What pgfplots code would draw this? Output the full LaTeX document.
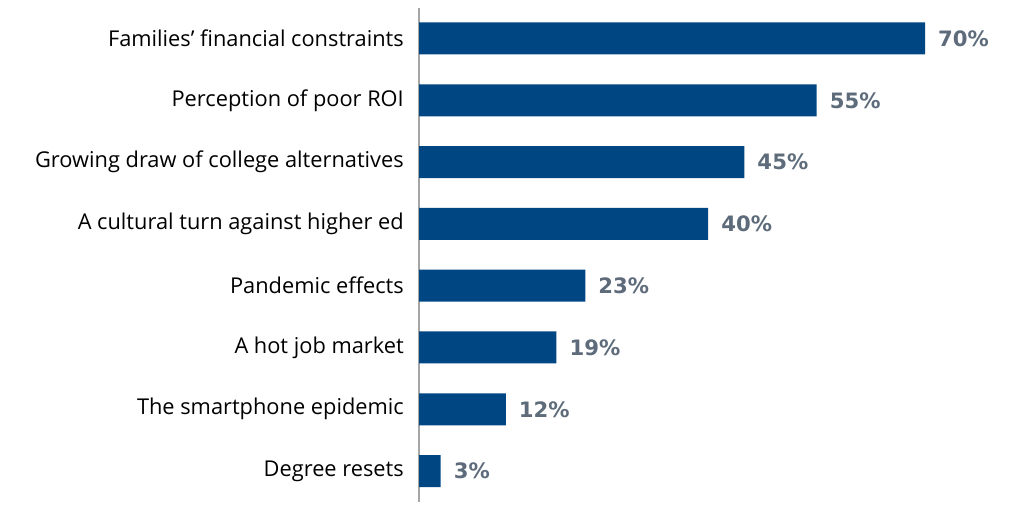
\documentclass[border=0pt]{standalone}
\usepackage{fontspec}
\setmainfont{Open Sans}
\newfontfamily\valfont{DejaVu Sans}
\usepackage{pgfplots}
\pgfplotsset{compat=1.18}
\definecolor{barblue}{RGB}{0,70,131}
\definecolor{valgrey}{RGB}{94,107,122}
\definecolor{axgrey}{RGB}{166,166,166}
\begin{document}
\begin{tikzpicture}[x=1bp,y=1bp]
\path[use as bounding box] (0,0) rectangle (1024,527);
\begin{axis}[
  at={(419bp,25bp)}, anchor=south west,
  scale only axis, width=578.3bp, height=494.4bp,
  xmin=0, xmax=80, ymin=-0.5, ymax=7.5, y dir=reverse,
  enlargelimits=false, clip=false,
  xbar, bar width=32bp,
  axis x line=none,
  axis y line*=left,
  y axis line style={draw=axgrey, line width=2.7bp},
  ytick={0,1,2,3,4,5,6,7},
  yticklabels={Families’ financial constraints, Perception of poor ROI, Growing draw of college alternatives, A cultural turn against higher ed, Pandemic effects, A hot job market, The smartphone epidemic, Degree resets},
  major tick length=0pt,
  /pgf/number format/assume math mode=true,
  yticklabel style={font=\fontsize{21.8bp}{25bp}\selectfont, text=black, inner sep=0pt, xshift=-15bp},
  nodes near coords={\pgfmathprintnumber{\pgfplotspointmeta}\%},
  nodes near coords style={font=\valfont\fontsize{21.2bp}{25bp}\selectfont\bfseries, text=valgrey, anchor=west, inner sep=0pt, xshift=13bp},
]
\addplot[fill=barblue, draw=none] coordinates {
  (70,0) (55,1) (45,2) (40,3) (23,4) (19,5) (12,6) (3,7)
};
\end{axis}
\end{tikzpicture}
\end{document}
